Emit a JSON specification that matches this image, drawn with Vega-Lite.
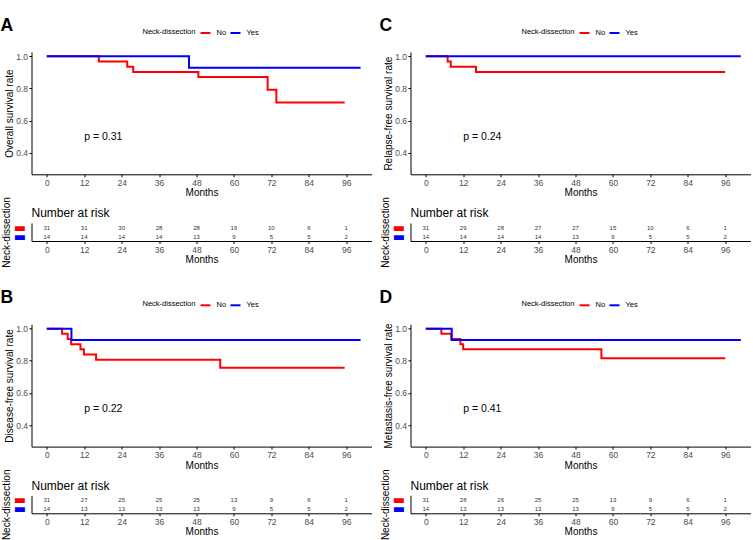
{
  "$schema": "https://vega.github.io/schema/vega-lite/v6.json",
  "padding": {"left": 0.5, "top": 16, "right": 0, "bottom": 0},
  "background": "white",
  "datasets": {
    "km": [
      {"panel": "A", "group": "No", "time": 0, "surv": 1},
      {"panel": "A", "group": "No", "time": 16.7, "surv": 0.968},
      {"panel": "A", "group": "No", "time": 25.8, "surv": 0.935},
      {"panel": "A", "group": "No", "time": 27.7, "surv": 0.903},
      {"panel": "A", "group": "No", "time": 48.6, "surv": 0.871},
      {"panel": "A", "group": "No", "time": 70.8, "surv": 0.792},
      {"panel": "A", "group": "No", "time": 73.6, "surv": 0.713},
      {"panel": "A", "group": "No", "time": 95.5, "surv": 0.713},
      {"panel": "A", "group": "Yes", "time": 0, "surv": 1},
      {"panel": "A", "group": "Yes", "time": 45.6, "surv": 0.929},
      {"panel": "A", "group": "Yes", "time": 100.6, "surv": 0.929},
      {"panel": "C", "group": "No", "time": 0, "surv": 1},
      {"panel": "C", "group": "No", "time": 7.0, "surv": 0.968},
      {"panel": "C", "group": "No", "time": 8.0, "surv": 0.935},
      {"panel": "C", "group": "No", "time": 16.1, "surv": 0.903},
      {"panel": "C", "group": "No", "time": 96, "surv": 0.903},
      {"panel": "C", "group": "Yes", "time": 0, "surv": 1},
      {"panel": "C", "group": "Yes", "time": 101, "surv": 1},
      {"panel": "B", "group": "No", "time": 0, "surv": 1},
      {"panel": "B", "group": "No", "time": 4.9, "surv": 0.968},
      {"panel": "B", "group": "No", "time": 6.7, "surv": 0.935},
      {"panel": "B", "group": "No", "time": 7.8, "surv": 0.903},
      {"panel": "B", "group": "No", "time": 10.8, "surv": 0.871},
      {"panel": "B", "group": "No", "time": 11.9, "surv": 0.839},
      {"panel": "B", "group": "No", "time": 15.8, "surv": 0.806},
      {"panel": "B", "group": "No", "time": 55.6, "surv": 0.756},
      {"panel": "B", "group": "No", "time": 95.5, "surv": 0.756},
      {"panel": "B", "group": "Yes", "time": 0, "surv": 1},
      {"panel": "B", "group": "Yes", "time": 7.9, "surv": 0.929},
      {"panel": "B", "group": "Yes", "time": 100.6, "surv": 0.929},
      {"panel": "D", "group": "No", "time": 0, "surv": 1},
      {"panel": "D", "group": "No", "time": 5.0, "surv": 0.968},
      {"panel": "D", "group": "No", "time": 8.2, "surv": 0.935},
      {"panel": "D", "group": "No", "time": 11.1, "surv": 0.903},
      {"panel": "D", "group": "No", "time": 12.0, "surv": 0.871},
      {"panel": "D", "group": "No", "time": 56.3, "surv": 0.816},
      {"panel": "D", "group": "No", "time": 96, "surv": 0.816},
      {"panel": "D", "group": "Yes", "time": 0, "surv": 1},
      {"panel": "D", "group": "Yes", "time": 8.3, "surv": 0.929},
      {"panel": "D", "group": "Yes", "time": 101, "surv": 0.929}
    ],
    "risk": [
      {"panel": "A", "group": "No", "time": 0, "n": 31},
      {"panel": "A", "group": "No", "time": 12, "n": 31},
      {"panel": "A", "group": "No", "time": 24, "n": 30},
      {"panel": "A", "group": "No", "time": 36, "n": 28},
      {"panel": "A", "group": "No", "time": 48, "n": 28},
      {"panel": "A", "group": "No", "time": 60, "n": 16},
      {"panel": "A", "group": "No", "time": 72, "n": 10},
      {"panel": "A", "group": "No", "time": 84, "n": 6},
      {"panel": "A", "group": "No", "time": 96, "n": 1},
      {"panel": "A", "group": "Yes", "time": 0, "n": 14},
      {"panel": "A", "group": "Yes", "time": 12, "n": 14},
      {"panel": "A", "group": "Yes", "time": 24, "n": 14},
      {"panel": "A", "group": "Yes", "time": 36, "n": 14},
      {"panel": "A", "group": "Yes", "time": 48, "n": 13},
      {"panel": "A", "group": "Yes", "time": 60, "n": 9},
      {"panel": "A", "group": "Yes", "time": 72, "n": 5},
      {"panel": "A", "group": "Yes", "time": 84, "n": 5},
      {"panel": "A", "group": "Yes", "time": 96, "n": 2},
      {"panel": "C", "group": "No", "time": 0, "n": 31},
      {"panel": "C", "group": "No", "time": 12, "n": 29},
      {"panel": "C", "group": "No", "time": 24, "n": 28},
      {"panel": "C", "group": "No", "time": 36, "n": 27},
      {"panel": "C", "group": "No", "time": 48, "n": 27},
      {"panel": "C", "group": "No", "time": 60, "n": 15},
      {"panel": "C", "group": "No", "time": 72, "n": 10},
      {"panel": "C", "group": "No", "time": 84, "n": 6},
      {"panel": "C", "group": "No", "time": 96, "n": 1},
      {"panel": "C", "group": "Yes", "time": 0, "n": 14},
      {"panel": "C", "group": "Yes", "time": 12, "n": 14},
      {"panel": "C", "group": "Yes", "time": 24, "n": 14},
      {"panel": "C", "group": "Yes", "time": 36, "n": 14},
      {"panel": "C", "group": "Yes", "time": 48, "n": 13},
      {"panel": "C", "group": "Yes", "time": 60, "n": 9},
      {"panel": "C", "group": "Yes", "time": 72, "n": 5},
      {"panel": "C", "group": "Yes", "time": 84, "n": 5},
      {"panel": "C", "group": "Yes", "time": 96, "n": 2},
      {"panel": "B", "group": "No", "time": 0, "n": 31},
      {"panel": "B", "group": "No", "time": 12, "n": 27},
      {"panel": "B", "group": "No", "time": 24, "n": 25},
      {"panel": "B", "group": "No", "time": 36, "n": 25},
      {"panel": "B", "group": "No", "time": 48, "n": 25},
      {"panel": "B", "group": "No", "time": 60, "n": 13},
      {"panel": "B", "group": "No", "time": 72, "n": 9},
      {"panel": "B", "group": "No", "time": 84, "n": 6},
      {"panel": "B", "group": "No", "time": 96, "n": 1},
      {"panel": "B", "group": "Yes", "time": 0, "n": 14},
      {"panel": "B", "group": "Yes", "time": 12, "n": 13},
      {"panel": "B", "group": "Yes", "time": 24, "n": 13},
      {"panel": "B", "group": "Yes", "time": 36, "n": 13},
      {"panel": "B", "group": "Yes", "time": 48, "n": 13},
      {"panel": "B", "group": "Yes", "time": 60, "n": 9},
      {"panel": "B", "group": "Yes", "time": 72, "n": 5},
      {"panel": "B", "group": "Yes", "time": 84, "n": 5},
      {"panel": "B", "group": "Yes", "time": 96, "n": 2},
      {"panel": "D", "group": "No", "time": 0, "n": 31},
      {"panel": "D", "group": "No", "time": 12, "n": 28},
      {"panel": "D", "group": "No", "time": 24, "n": 26},
      {"panel": "D", "group": "No", "time": 36, "n": 25},
      {"panel": "D", "group": "No", "time": 48, "n": 25},
      {"panel": "D", "group": "No", "time": 60, "n": 13},
      {"panel": "D", "group": "No", "time": 72, "n": 9},
      {"panel": "D", "group": "No", "time": 84, "n": 6},
      {"panel": "D", "group": "No", "time": 96, "n": 1},
      {"panel": "D", "group": "Yes", "time": 0, "n": 14},
      {"panel": "D", "group": "Yes", "time": 12, "n": 13},
      {"panel": "D", "group": "Yes", "time": 24, "n": 13},
      {"panel": "D", "group": "Yes", "time": 36, "n": 13},
      {"panel": "D", "group": "Yes", "time": 48, "n": 13},
      {"panel": "D", "group": "Yes", "time": 60, "n": 9},
      {"panel": "D", "group": "Yes", "time": 72, "n": 5},
      {"panel": "D", "group": "Yes", "time": 84, "n": 5},
      {"panel": "D", "group": "Yes", "time": 96, "n": 2}
    ]
  },
  "hconcat": [
    {
      "vconcat": [
        {
          "vconcat": [
            {
              "width": 340, "height": 122.3,
              "title": {"text": "A", "anchor": "start", "frame": "group", "fontSize": 17.5, "fontWeight": "bold", "dx": -31, "dy": 7, "offset": 0},
              "layer": [
                {
                  "data": {"name": "km"},
                  "transform": [{"filter": "datum.panel === 'A'"}],
                  "mark": {"type": "line", "interpolate": "step-after", "strokeWidth": 2},
                  "encoding": {
                    "x": {"field": "time", "type": "quantitative", "scale": {"domain": [-4.9, 104.1], "nice": false}, "axis": {"values": [0,12,24,36,48,60,72,84,96], "title": "Months", "labelPadding": 1.5, "titlePadding": 1}},
                    "y": {"field": "surv", "type": "quantitative", "scale": {"domain": [0.266, 1.027], "nice": false, "zero": false}, "axis": {"values": [0.4,0.6,0.8,1.0], "format": ".1f", "title": "Overall survival rate", "labelPadding": 1.5, "titlePadding": 1.5}},
                    "color": {"field": "group", "type": "nominal", "scale": {"domain": ["No","Yes"], "range": ["#ff0000","#0000ff"]}, "legend": {"title": "Neck-dissection", "orient": "none", "legendX": 111, "legendY": -25, "direction": "horizontal", "titleOrient": "left"}}
                  }
                },
                {
                  "data": {"values": [{}]},
                  "mark": {"type": "text", "align": "left", "baseline": "middle", "fontSize": 10.5},
                  "encoding": {"x": {"datum": 12}, "y": {"datum": 0.5}, "text": {"value": "p = 0.31"}}
                }
              ]
            },
            {
              "width": 340, "height": 18,
              "title": {"text": "Number at risk", "anchor": "start", "frame": "group", "fontSize": 12, "fontWeight": "normal", "offset": -23.7},
              "data": {"name": "risk"},
              "transform": [{"filter": "datum.panel === 'A'"}],
              "mark": {"type": "text", "fontSize": 6, "color": "#333333"},
              "encoding": {
                "x": {"field": "time", "type": "quantitative", "scale": {"domain": [-4.9, 104.1], "nice": false}, "axis": {"values": [0,12,24,36,48,60,72,84,96], "title": "Months", "labelPadding": 1.5, "titlePadding": 1}},
                "y": {"field": "group", "type": "nominal", "scale": {"type": "point", "padding": 0.5, "domain": ["No","Yes"]}, "axis": {"title": "Neck-dissection", "ticks": false, "tickSize": 0, "labelExpr": "'▬'", "labelFont": "DejaVu Sans", "labelFontSize": 13, "labelPadding": 6, "labelBaseline": "middle", "labelColor": {"condition": {"test": "datum.value === 'No'", "value": "#ff0000"}, "value": "#0000ff"}, "titlePadding": 1.5}},
                "text": {"field": "n", "type": "quantitative"}
              }
            }
          ],
          "spacing": -2,
          "resolve": {"scale": {"color": "independent"}, "legend": {"color": "independent"}}
        },
        {
          "vconcat": [
            {
              "width": 340, "height": 122.3,
              "title": {"text": "B", "anchor": "start", "frame": "group", "fontSize": 17.5, "fontWeight": "bold", "dx": -31, "dy": 7, "offset": 0},
              "layer": [
                {
                  "data": {"name": "km"},
                  "transform": [{"filter": "datum.panel === 'B'"}],
                  "mark": {"type": "line", "interpolate": "step-after", "strokeWidth": 2},
                  "encoding": {
                    "x": {"field": "time", "type": "quantitative", "scale": {"domain": [-4.9, 104.1], "nice": false}, "axis": {"values": [0,12,24,36,48,60,72,84,96], "title": "Months", "labelPadding": 1.5, "titlePadding": 1}},
                    "y": {"field": "surv", "type": "quantitative", "scale": {"domain": [0.266, 1.027], "nice": false, "zero": false}, "axis": {"values": [0.4,0.6,0.8,1.0], "format": ".1f", "title": "Disease-free survival rate", "labelPadding": 1.5, "titlePadding": 1.5}},
                    "color": {"field": "group", "type": "nominal", "scale": {"domain": ["No","Yes"], "range": ["#ff0000","#0000ff"]}, "legend": {"title": "Neck-dissection", "orient": "none", "legendX": 111, "legendY": -25, "direction": "horizontal", "titleOrient": "left"}}
                  }
                },
                {
                  "data": {"values": [{}]},
                  "mark": {"type": "text", "align": "left", "baseline": "middle", "fontSize": 10.5},
                  "encoding": {"x": {"datum": 12}, "y": {"datum": 0.5}, "text": {"value": "p = 0.22"}}
                }
              ]
            },
            {
              "width": 340, "height": 18,
              "title": {"text": "Number at risk", "anchor": "start", "frame": "group", "fontSize": 12, "fontWeight": "normal", "offset": -23.7},
              "data": {"name": "risk"},
              "transform": [{"filter": "datum.panel === 'B'"}],
              "mark": {"type": "text", "fontSize": 6, "color": "#333333"},
              "encoding": {
                "x": {"field": "time", "type": "quantitative", "scale": {"domain": [-4.9, 104.1], "nice": false}, "axis": {"values": [0,12,24,36,48,60,72,84,96], "title": "Months", "labelPadding": 1.5, "titlePadding": 1}},
                "y": {"field": "group", "type": "nominal", "scale": {"type": "point", "padding": 0.5, "domain": ["No","Yes"]}, "axis": {"title": "Neck-dissection", "ticks": false, "tickSize": 0, "labelExpr": "'▬'", "labelFont": "DejaVu Sans", "labelFontSize": 13, "labelPadding": 6, "labelBaseline": "middle", "labelColor": {"condition": {"test": "datum.value === 'No'", "value": "#ff0000"}, "value": "#0000ff"}, "titlePadding": 1.5}},
                "text": {"field": "n", "type": "quantitative"}
              }
            }
          ],
          "spacing": -2,
          "resolve": {"scale": {"color": "independent"}, "legend": {"color": "independent"}}
        }
      ],
      "spacing": 20.3,
      "resolve": {"scale": {"color": "independent"}, "legend": {"color": "independent"}}
    },
    {
      "vconcat": [
        {
          "vconcat": [
            {
              "width": 340, "height": 122.3,
              "title": {"text": "C", "anchor": "start", "frame": "group", "fontSize": 17.5, "fontWeight": "bold", "dx": -31, "dy": 7, "offset": 0},
              "layer": [
                {
                  "data": {"name": "km"},
                  "transform": [{"filter": "datum.panel === 'C'"}],
                  "mark": {"type": "line", "interpolate": "step-after", "strokeWidth": 2},
                  "encoding": {
                    "x": {"field": "time", "type": "quantitative", "scale": {"domain": [-4.9, 104.1], "nice": false}, "axis": {"values": [0,12,24,36,48,60,72,84,96], "title": "Months", "labelPadding": 1.5, "titlePadding": 1}},
                    "y": {"field": "surv", "type": "quantitative", "scale": {"domain": [0.266, 1.027], "nice": false, "zero": false}, "axis": {"values": [0.4,0.6,0.8,1.0], "format": ".1f", "title": "Relapse-free survival rate", "labelPadding": 1.5, "titlePadding": 1.5}},
                    "color": {"field": "group", "type": "nominal", "scale": {"domain": ["No","Yes"], "range": ["#ff0000","#0000ff"]}, "legend": {"title": "Neck-dissection", "orient": "none", "legendX": 111, "legendY": -25, "direction": "horizontal", "titleOrient": "left"}}
                  }
                },
                {
                  "data": {"values": [{}]},
                  "mark": {"type": "text", "align": "left", "baseline": "middle", "fontSize": 10.5},
                  "encoding": {"x": {"datum": 12}, "y": {"datum": 0.5}, "text": {"value": "p = 0.24"}}
                }
              ]
            },
            {
              "width": 340, "height": 18,
              "title": {"text": "Number at risk", "anchor": "start", "frame": "group", "fontSize": 12, "fontWeight": "normal", "offset": -23.7},
              "data": {"name": "risk"},
              "transform": [{"filter": "datum.panel === 'C'"}],
              "mark": {"type": "text", "fontSize": 6, "color": "#333333"},
              "encoding": {
                "x": {"field": "time", "type": "quantitative", "scale": {"domain": [-4.9, 104.1], "nice": false}, "axis": {"values": [0,12,24,36,48,60,72,84,96], "title": "Months", "labelPadding": 1.5, "titlePadding": 1}},
                "y": {"field": "group", "type": "nominal", "scale": {"type": "point", "padding": 0.5, "domain": ["No","Yes"]}, "axis": {"title": "Neck-dissection", "ticks": false, "tickSize": 0, "labelExpr": "'▬'", "labelFont": "DejaVu Sans", "labelFontSize": 13, "labelPadding": 6, "labelBaseline": "middle", "labelColor": {"condition": {"test": "datum.value === 'No'", "value": "#ff0000"}, "value": "#0000ff"}, "titlePadding": 1.5}},
                "text": {"field": "n", "type": "quantitative"}
              }
            }
          ],
          "spacing": -2,
          "resolve": {"scale": {"color": "independent"}, "legend": {"color": "independent"}}
        },
        {
          "vconcat": [
            {
              "width": 340, "height": 122.3,
              "title": {"text": "D", "anchor": "start", "frame": "group", "fontSize": 17.5, "fontWeight": "bold", "dx": -31, "dy": 7, "offset": 0},
              "layer": [
                {
                  "data": {"name": "km"},
                  "transform": [{"filter": "datum.panel === 'D'"}],
                  "mark": {"type": "line", "interpolate": "step-after", "strokeWidth": 2},
                  "encoding": {
                    "x": {"field": "time", "type": "quantitative", "scale": {"domain": [-4.9, 104.1], "nice": false}, "axis": {"values": [0,12,24,36,48,60,72,84,96], "title": "Months", "labelPadding": 1.5, "titlePadding": 1}},
                    "y": {"field": "surv", "type": "quantitative", "scale": {"domain": [0.266, 1.027], "nice": false, "zero": false}, "axis": {"values": [0.4,0.6,0.8,1.0], "format": ".1f", "title": "Metastasis-free survival rate", "labelPadding": 1.5, "titlePadding": 1.5}},
                    "color": {"field": "group", "type": "nominal", "scale": {"domain": ["No","Yes"], "range": ["#ff0000","#0000ff"]}, "legend": {"title": "Neck-dissection", "orient": "none", "legendX": 111, "legendY": -25, "direction": "horizontal", "titleOrient": "left"}}
                  }
                },
                {
                  "data": {"values": [{}]},
                  "mark": {"type": "text", "align": "left", "baseline": "middle", "fontSize": 10.5},
                  "encoding": {"x": {"datum": 12}, "y": {"datum": 0.5}, "text": {"value": "p = 0.41"}}
                }
              ]
            },
            {
              "width": 340, "height": 18,
              "title": {"text": "Number at risk", "anchor": "start", "frame": "group", "fontSize": 12, "fontWeight": "normal", "offset": -23.7},
              "data": {"name": "risk"},
              "transform": [{"filter": "datum.panel === 'D'"}],
              "mark": {"type": "text", "fontSize": 6, "color": "#333333"},
              "encoding": {
                "x": {"field": "time", "type": "quantitative", "scale": {"domain": [-4.9, 104.1], "nice": false}, "axis": {"values": [0,12,24,36,48,60,72,84,96], "title": "Months", "labelPadding": 1.5, "titlePadding": 1}},
                "y": {"field": "group", "type": "nominal", "scale": {"type": "point", "padding": 0.5, "domain": ["No","Yes"]}, "axis": {"title": "Neck-dissection", "ticks": false, "tickSize": 0, "labelExpr": "'▬'", "labelFont": "DejaVu Sans", "labelFontSize": 13, "labelPadding": 6, "labelBaseline": "middle", "labelColor": {"condition": {"test": "datum.value === 'No'", "value": "#ff0000"}, "value": "#0000ff"}, "titlePadding": 1.5}},
                "text": {"field": "n", "type": "quantitative"}
              }
            }
          ],
          "spacing": -2,
          "resolve": {"scale": {"color": "independent"}, "legend": {"color": "independent"}}
        }
      ],
      "spacing": 20.3,
      "resolve": {"scale": {"color": "independent"}, "legend": {"color": "independent"}}
    }
  ],
  "spacing": 8,
  "resolve": {"scale": {"color": "independent"}, "legend": {"color": "independent"}},
  "config": {
    "font": "Liberation Sans",
    "view": {"stroke": null},
    "axis": {"grid": false, "domainColor": "#000000", "domainWidth": 1, "tickColor": "#000000", "tickSize": 2.5, "tickWidth": 1, "labelColor": "#4d4d4d", "labelFontSize": 8.5, "titleColor": "#000000", "titleFontSize": 10, "titleFontWeight": "normal", "labelFont": "Liberation Sans", "titleFont": "Liberation Sans"},
    "legend": {"titleFontSize": 7.5, "titleFontWeight": "normal", "titleColor": "#000000", "labelFontSize": 7.5, "labelColor": "#000000", "symbolType": "stroke", "symbolStrokeWidth": 2, "symbolSize": 100, "titlePadding": 4, "labelOffset": 5, "columnPadding": 0, "titleFont": "Liberation Sans", "labelFont": "Liberation Sans"},
    "title": {"font": "Liberation Sans", "color": "#000000"},
    "text": {"font": "Liberation Sans"}
  }
}
